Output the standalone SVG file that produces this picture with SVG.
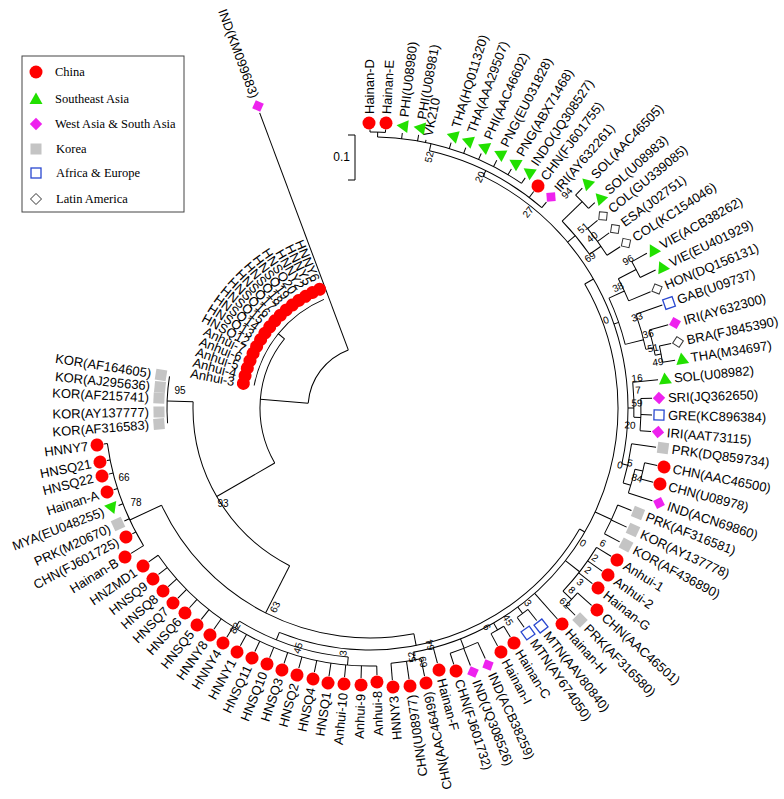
<svg xmlns="http://www.w3.org/2000/svg" width="784" height="799" viewBox="0 0 784 799">
<style>
.t{font-family:"Liberation Sans",Arial,sans-serif;font-size:13px;fill:#000;dominant-baseline:central}
.e{text-anchor:end}
.bs{font-family:"Liberation Sans",Arial,sans-serif;font-size:10px;fill:#000;dominant-baseline:central;text-anchor:middle}
.br{fill:none;stroke:#000;stroke-width:1}
#connectors line,#connectors circle{fill:none;stroke:#000;stroke-width:1}
.lg{font-family:"Liberation Serif","Times New Roman",serif;font-size:12.5px;fill:#000;dominant-baseline:central}
</style>
<defs>
<circle id="c" r="6.5" fill="#ff0000"/>
<polygon id="g" points="0,-6.5 6.5,5 -6.5,5" fill="#22e000"/>
<polygon id="m" points="0,-6.2 6.2,0 0,6.2 -6.2,0" fill="#ee22ee"/>
<rect id="k" x="-5.5" y="-5.5" width="11" height="11" fill="#c4c4c4"/>
<rect id="b" x="-5" y="-5" width="10" height="10" fill="none" stroke="#2a48d0" stroke-width="1.3"/>
<polygon id="d" points="0,-5.5 5.5,0 0,5.5 -5.5,0" fill="none" stroke="#333" stroke-width="1"/>
</defs>
<rect width="784" height="799" fill="#fff"/>

<g id="legend">
<rect x="22" y="56" width="162" height="156" fill="#fff" stroke="#444" stroke-width="1"/>
<use href="#c" x="36" y="72"/><text class="lg" x="55" y="72">China</text>
<use href="#g" x="36" y="99"/><text class="lg" x="55" y="99">Southeast Asia</text>
<use href="#m" x="36" y="124"/><text class="lg" x="55" y="124">West Asia &amp; South Asia</text>
<use href="#k" x="36" y="149"/><text class="lg" x="56" y="149">Korea</text>
<use href="#b" x="36" y="173"/><text class="lg" x="56" y="173">Africa &amp; Europe</text>
<use href="#d" x="36" y="199"/><text class="lg" x="56" y="199">Latin America</text>
</g>

<g id="scale">
<path class="br" d="M348,135 H355 V180 H348"/>
<text class="t" x="350" y="157" text-anchor="end" style="font-size:12px">0.1</text>
</g>

<g id="connectors" transform="translate(370,408)">
<line x1="62" x2="315" transform="rotate(-110.5)"/>
<circle r="62" pathLength="360" stroke-dasharray="65 400" transform="rotate(184.5)"/>
<line x1="62" x2="110" transform="rotate(184.5)"/>
<circle r="110" pathLength="360" stroke-dasharray="69 400" transform="rotate(150)"/>
<line x1="110" x2="118" transform="rotate(219)"/>
<circle r="118" pathLength="360" stroke-dasharray="56 400" transform="rotate(191)"/>
<line x1="110" x2="177" transform="rotate(150)"/>
<circle r="177" pathLength="360" stroke-dasharray="65 400" transform="rotate(117)"/>
<line x1="177" x2="203" transform="rotate(182)"/>
<circle r="203" pathLength="360" stroke-dasharray="13.3 400" transform="rotate(175.7)"/>
<line x1="177" x2="230" transform="rotate(117)"/>
<circle r="230" pathLength="360" stroke-dasharray="76 400" transform="rotate(79)"/>
<line x1="230" x2="265" transform="rotate(155)"/>
<circle r="265" pathLength="360" stroke-dasharray="23.6 400" transform="rotate(148.7)"/>
<line x1="265" x2="268.5" transform="rotate(172.3)"/>
<line x1="265" x2="268.3" transform="rotate(168.7)"/>
<line x1="265" x2="269.5" transform="rotate(165.8)"/>
<line x1="265" x2="269.1" transform="rotate(162.3)"/>
<line x1="265" x2="269.7" transform="rotate(158.8)"/>
<line x1="265" x2="270.4" transform="rotate(155.3)"/>
<line x1="265" x2="269" transform="rotate(152.1)"/>
<line x1="265" x2="279.7" transform="rotate(148.7)"/>
<line x1="230" x2="242" transform="rotate(79)"/>
<circle r="242" pathLength="360" stroke-dasharray="82 400" transform="rotate(30)"/>
<line x1="242" x2="250" transform="rotate(112)"/>
<circle r="250" pathLength="360" stroke-dasharray="26.5 400" transform="rotate(95)"/>
<line x1="250" x2="258" transform="rotate(121.5)"/>
<line x1="250" x2="258" transform="rotate(95)"/>
<circle r="258" pathLength="360" stroke-dasharray="56.7 400" transform="rotate(88.5)"/>
<line x1="258" x2="267.1" transform="rotate(88.5)"/>
<line x1="258" x2="270.1" transform="rotate(91.9)"/>
<line x1="258" x2="270.2" transform="rotate(95.4)"/>
<line x1="258" x2="271.2" transform="rotate(98.7)"/>
<line x1="258" x2="269.9" transform="rotate(101.9)"/>
<line x1="258" x2="269.8" transform="rotate(105.3)"/>
<line x1="258" x2="269.4" transform="rotate(108.6)"/>
<line x1="258" x2="269" transform="rotate(111.9)"/>
<line x1="258" x2="269.4" transform="rotate(115.3)"/>
<line x1="258" x2="270.9" transform="rotate(118.6)"/>
<line x1="258" x2="270.2" transform="rotate(122)"/>
<line x1="258" x2="270.8" transform="rotate(125.2)"/>
<line x1="258" x2="270.5" transform="rotate(128.6)"/>
<line x1="258" x2="269.2" transform="rotate(132.1)"/>
<line x1="258" x2="270.2" transform="rotate(135.3)"/>
<line x1="258" x2="269.4" transform="rotate(138.5)"/>
<line x1="258" x2="269.1" transform="rotate(141.8)"/>
<line x1="258" x2="269.5" transform="rotate(145.2)"/>
<line x1="242" x2="248" transform="rotate(30)"/>
<circle r="248" pathLength="360" stroke-dasharray="110 400" transform="rotate(-30)"/>
<line x1="248" x2="256" transform="rotate(80)"/>
<circle r="256" pathLength="360" stroke-dasharray="6.8 400" transform="rotate(78.5)"/>
<line x1="256" x2="273.6" transform="rotate(78.5)"/>
<line x1="256" x2="273.9" transform="rotate(81.8)"/>
<line x1="256" x2="272.9" transform="rotate(85.3)"/>
<line x1="248" x2="263.9" transform="rotate(75.2)"/>
<line x1="248" x2="258" transform="rotate(68.6)"/>
<circle r="258" pathLength="360" stroke-dasharray="6.6 400" transform="rotate(65.3)"/>
<line x1="258" x2="275.8" transform="rotate(65.3)"/>
<line x1="258" x2="276.4" transform="rotate(68.7)"/>
<line x1="258" x2="269.7" transform="rotate(71.9)"/>
<line x1="248" x2="256" transform="rotate(60.1)"/>
<circle r="256" pathLength="360" stroke-dasharray="3.3 400" transform="rotate(58.5)"/>
<line x1="256" x2="268.6" transform="rotate(58.5)"/>
<line x1="256" x2="269.9" transform="rotate(61.8)"/>
<line x1="248" x2="256" transform="rotate(53.4)"/>
<circle r="256" pathLength="360" stroke-dasharray="3 400" transform="rotate(51.9)"/>
<line x1="256" x2="270.1" transform="rotate(51.9)"/>
<line x1="256" x2="268" transform="rotate(54.9)"/>
<line x1="248" x2="282.2" transform="rotate(48.4)"/>
<line x1="248" x2="266" transform="rotate(38)"/>
<circle r="266" pathLength="360" stroke-dasharray="11.9 400" transform="rotate(31.6)"/>
<line x1="266" x2="283" transform="rotate(31.6)"/>
<line x1="266" x2="283.8" transform="rotate(35.1)"/>
<line x1="266" x2="283.4" transform="rotate(38.3)"/>
<line x1="266" x2="278" transform="rotate(43.5)"/>
<circle r="278" pathLength="360" stroke-dasharray="3.6 400" transform="rotate(41.7)"/>
<line x1="278" x2="296.7" transform="rotate(41.7)"/>
<line x1="278" x2="291.6" transform="rotate(45.3)"/>
<line x1="248" x2="266" transform="rotate(24.8)"/>
<circle r="266" pathLength="360" stroke-dasharray="6.8 400" transform="rotate(21.4)"/>
<line x1="266" x2="280.8" transform="rotate(21.4)"/>
<line x1="266" x2="282.9" transform="rotate(24.9)"/>
<line x1="266" x2="283.3" transform="rotate(28.2)"/>
<line x1="248" x2="258" transform="rotate(-30)"/>
<circle r="258" pathLength="360" stroke-dasharray="76.5 400" transform="rotate(-64)"/>
<line x1="258" x2="264" transform="rotate(12.5)"/>
<circle r="264" pathLength="360" stroke-dasharray="8.7 400" transform="rotate(7.8)"/>
<line x1="264" x2="288.7" transform="rotate(7.8)"/>
<line x1="264" x2="272" transform="rotate(16.5)"/>
<circle r="272" pathLength="360" stroke-dasharray="5.2 400" transform="rotate(13)"/>
<line x1="272" x2="297.2" transform="rotate(18.2)"/>
<line x1="272" x2="280" transform="rotate(13)"/>
<circle r="280" pathLength="360" stroke-dasharray="3.4 400" transform="rotate(11.3)"/>
<line x1="280" x2="292.9" transform="rotate(11.3)"/>
<line x1="280" x2="292.8" transform="rotate(14.7)"/>
<line x1="258" x2="264" transform="rotate(0)"/>
<circle r="264" pathLength="360" stroke-dasharray="7.6 400" transform="rotate(-5.6)"/>
<line x1="264" x2="289.4" transform="rotate(-5.6)"/>
<line x1="264" x2="271" transform="rotate(2)"/>
<circle r="271" pathLength="360" stroke-dasharray="6.8 400" transform="rotate(-2)"/>
<line x1="271" x2="282.2" transform="rotate(-2)"/>
<line x1="271" x2="282.1" transform="rotate(1.4)"/>
<line x1="271" x2="282" transform="rotate(4.8)"/>
<line x1="258" x2="263" transform="rotate(-19)"/>
<circle r="263" pathLength="360" stroke-dasharray="10.7 400" transform="rotate(-24.7)"/>
<line x1="263" x2="280" transform="rotate(-24.7)"/>
<circle r="280" pathLength="360" stroke-dasharray="5 400" transform="rotate(-27.5)"/>
<line x1="280" x2="303.7" transform="rotate(-22.5)"/>
<line x1="280" x2="300" transform="rotate(-27.5)"/>
<circle r="300" pathLength="360" stroke-dasharray="3.4 400" transform="rotate(-29.2)"/>
<line x1="300" x2="317.2" transform="rotate(-29.2)"/>
<line x1="300" x2="317.2" transform="rotate(-25.8)"/>
<line x1="263" x2="282" transform="rotate(-14)"/>
<circle r="282" pathLength="360" stroke-dasharray="7.4 400" transform="rotate(-19.4)"/>
<line x1="282" x2="309.9" transform="rotate(-19.4)"/>
<line x1="282" x2="290" transform="rotate(-12)"/>
<circle r="290" pathLength="360" stroke-dasharray="5.1 400" transform="rotate(-15.6)"/>
<line x1="290" x2="309.6" transform="rotate(-15.6)"/>
<line x1="290" x2="296" transform="rotate(-10.5)"/>
<circle r="296" pathLength="360" stroke-dasharray="3.2 400" transform="rotate(-12.1)"/>
<line x1="296" x2="308" transform="rotate(-12.1)"/>
<line x1="296" x2="308.8" transform="rotate(-8.9)"/>
<line x1="258" x2="268" transform="rotate(-40)"/>
<circle r="268" pathLength="360" stroke-dasharray="9.2 400" transform="rotate(-44.2)"/>
<line x1="268" x2="296" transform="rotate(-44.2)"/>
<circle r="296" pathLength="360" stroke-dasharray="3.6 400" transform="rotate(-46)"/>
<line x1="296" x2="305.6" transform="rotate(-46)"/>
<line x1="296" x2="304.4" transform="rotate(-42.4)"/>
<line x1="268" x2="282" transform="rotate(-35)"/>
<circle r="282" pathLength="360" stroke-dasharray="6.7 400" transform="rotate(-39.5)"/>
<line x1="282" x2="294.9" transform="rotate(-39.5)"/>
<line x1="282" x2="296.4" transform="rotate(-36.2)"/>
<line x1="282" x2="297.6" transform="rotate(-32.8)"/>
<line x1="258" x2="264" transform="rotate(-64)"/>
<circle r="264" pathLength="360" stroke-dasharray="27.6 400" transform="rotate(-77)"/>
<line x1="264" x2="271.4" transform="rotate(-52.9)"/>
<line x1="264" x2="271.1" transform="rotate(-49.4)"/>
<line x1="264" x2="271" transform="rotate(-77)"/>
<circle r="271" pathLength="360" stroke-dasharray="32.4 400" transform="rotate(-88.4)"/>
<line x1="271" x2="276.9" transform="rotate(-83.3)"/>
<line x1="271" x2="277.4" transform="rotate(-79.9)"/>
<line x1="271" x2="274" transform="rotate(-78.2)"/>
<line x1="271" x2="277.4" transform="rotate(-73)"/>
<line x1="271" x2="277.4" transform="rotate(-69.8)"/>
<line x1="271" x2="277.8" transform="rotate(-66.4)"/>
<line x1="271" x2="278.3" transform="rotate(-62.9)"/>
<line x1="271" x2="277.7" transform="rotate(-59.4)"/>
<line x1="271" x2="277.6" transform="rotate(-56)"/>
<line x1="271" x2="276" transform="rotate(-88.4)"/>
<circle r="276" pathLength="360" stroke-dasharray="3.2 400" transform="rotate(-90)"/>
<line x1="276" x2="278.5" transform="rotate(-90)"/>
<line x1="276" x2="278.9" transform="rotate(-86.8)"/>
</g>

<g id="bootstrap">
<text class="bs" transform="translate(429,157) rotate(-76.8)">52</text>
<text class="bs" transform="translate(480,177) rotate(-64.5)">20</text>
<text class="bs" transform="translate(528,212) rotate(-51)">27</text>
<text class="bs" transform="translate(567,193) rotate(-47.5)">94</text>
<text class="bs" transform="translate(583,228) rotate(-40)">51</text>
<text class="bs" transform="translate(592,237) rotate(-37.6)">40</text>
<text class="bs" transform="translate(590,257) rotate(-34.5)">69</text>
<text class="bs" transform="translate(628,260) rotate(-29.8)">96</text>
<text class="bs" transform="translate(618,287) rotate(-26)">38</text>
<text class="bs" transform="translate(606,320) rotate(-20)">0</text>
<text class="bs" transform="translate(637,317) rotate(-18.8)">33</text>
<text class="bs" transform="translate(648,334) rotate(-15)">36</text>
<text class="bs" transform="translate(653,348) rotate(-12)">51</text>
<text class="bs" transform="translate(658,362) rotate(-9)">49</text>
<text class="bs" transform="translate(637,378) rotate(-6.4)">16</text>
<text class="bs" transform="translate(638,390) rotate(-3.8)">7</text>
<text class="bs" transform="translate(637,403) rotate(-1)">59</text>
<text class="bs" transform="translate(630,425) rotate(3.7)">20</text>
<text class="bs" transform="translate(620,465) rotate(12.8)">0</text>
<text class="bs" transform="translate(630,463) rotate(12)">5</text>
<text class="bs" transform="translate(637,478) rotate(14.7)">84</text>
<text class="bs" transform="translate(603,543) rotate(30)">6</text>
<text class="bs" transform="translate(583,543) rotate(32.4)">0</text>
<text class="bs" transform="translate(595,558) rotate(33.7)">2</text>
<text class="bs" transform="translate(588,570) rotate(36.6)">2</text>
<text class="bs" transform="translate(580,582) rotate(39.6)">3</text>
<text class="bs" transform="translate(572,590) rotate(42)">8</text>
<text class="bs" transform="translate(565,603) rotate(45)">62</text>
<text class="bs" transform="translate(528,603) rotate(51)">3</text>
<text class="bs" transform="translate(508,620) rotate(57)">45</text>
<text class="bs" transform="translate(487,627) rotate(61.9)">6</text>
<text class="bs" transform="translate(430,645) rotate(-104)">64</text>
<text class="bs" transform="translate(412,657) rotate(-100)">52</text>
<text class="bs" transform="translate(423,662) rotate(-102)">69</text>
<text class="bs" transform="translate(275,607) rotate(-64.5)">63</text>
<text class="bs" transform="translate(235,628) rotate(-58.5)">82</text>
<text class="bs" transform="translate(298,648) rotate(-73.3)">45</text>
<text class="bs" transform="translate(343,653) rotate(-83.7)">3</text>
<text class="bs" transform="translate(223,503)">93</text>
<text class="bs" transform="translate(180,390)">95</text>
<text class="bs" transform="translate(124,477)">66</text>
<text class="bs" transform="translate(136,502)">78</text>
</g>

<g id="n-IND-KM099683" transform="translate(258,106) rotate(-110.4)"><use href="#m"/><text class="t e" transform="rotate(180)" x="-9">IND(KM099683)</text></g>
<g id="n-Hainan-D" transform="translate(369,123) rotate(-90)"><use href="#c"/><text class="t" x="9">Hainan-D</text></g>
<g id="n-Hainan-E" transform="translate(386,123) rotate(-86.8)"><use href="#c"/><text class="t" x="9">Hainan-E</text></g>
<g id="n-PHI-U08980" transform="translate(403,126) rotate(-83.3)"><use href="#g"/><text class="t" x="9">PHI(U08980)</text></g>
<g id="n-PHI-U08981" transform="translate(420,128) rotate(-79.9)"><use href="#g"/><text class="t" x="9">PHI(U08981)</text></g>
<g id="n-VK210" transform="translate(427,140) rotate(-78.2)"><text class="t" x="4">VK210</text></g>
<g id="n-THA-HQ011320" transform="translate(453,136) rotate(-73)"><use href="#g"/><text class="t" x="9">THA(HQ011320)</text></g>
<g id="n-THA-AAA29507" transform="translate(468,141) rotate(-69.8)"><use href="#g"/><text class="t" x="9">THA(AAA29507)</text></g>
<g id="n-PHI-AAC46602" transform="translate(484,147) rotate(-66.4)"><use href="#g"/><text class="t" x="9">PHI(AAC46602)</text></g>
<g id="n-PNG-EU031828" transform="translate(500,154) rotate(-62.9)"><use href="#g"/><text class="t" x="9">PNG(EU031828)</text></g>
<g id="n-PNG-ABX71468" transform="translate(515,163) rotate(-59.4)"><use href="#g"/><text class="t" x="9">PNG(ABX71468)</text></g>
<g id="n-INDO-JQ308527" transform="translate(529,172) rotate(-56)"><use href="#g"/><text class="t" x="9">INDO(JQ308527)</text></g>
<g id="n-CHN-FJ601755" transform="translate(538,186) rotate(-52.9)"><use href="#c"/><text class="t" x="9">CHN(FJ601755)</text></g>
<g id="n-IRI-AY632261" transform="translate(551,197) rotate(-49.4)"><use href="#m"/><text class="t" x="9">IRI(AY632261)</text></g>
<g id="n-SOL-AAC46505" transform="translate(587,183) rotate(-46)"><use href="#g"/><text class="t" x="9">SOL(AAC46505)</text></g>
<g id="n-SOL-U08983" transform="translate(600,198) rotate(-42.4)"><use href="#g"/><text class="t" x="9">SOL(U08983)</text></g>
<g id="n-COL-GU339085" transform="translate(603,216) rotate(-39.5)"><use href="#d"/><text class="t" x="9">COL(GU339085)</text></g>
<g id="n-ESA-J02751" transform="translate(615,229) rotate(-36.2)"><use href="#d"/><text class="t" x="9">ESA(J02751)</text></g>
<g id="n-COL-KC154046" transform="translate(626,243) rotate(-32.8)"><use href="#d"/><text class="t" x="9">COL(KC154046)</text></g>
<g id="n-VIE-ACB38262" transform="translate(653,250) rotate(-29.2)"><use href="#g"/><text class="t" x="9">VIE(ACB38262)</text></g>
<g id="n-VIE-EU401929" transform="translate(662,267) rotate(-25.8)"><use href="#g"/><text class="t" x="9">VIE(EU401929)</text></g>
<g id="n-HON-DQ156131" transform="translate(657,289) rotate(-22.5)"><use href="#d"/><text class="t" x="9">HON(DQ156131)</text></g>
<g id="n-GAB-U09737" transform="translate(669,303) rotate(-19.4)"><use href="#b"/><text class="t" x="9">GAB(U09737)</text></g>
<g id="n-IRI-AY632300" transform="translate(675,323) rotate(-15.6)"><use href="#m"/><text class="t" x="9">IRI(AY632300)</text></g>
<g id="n-BRA-FJ845390" transform="translate(678,342) rotate(-12.1)"><use href="#d"/><text class="t" x="9">BRA(FJ845390)</text></g>
<g id="n-THA-M34697" transform="translate(682,359) rotate(-8.9)"><use href="#g"/><text class="t" x="9">THA(M34697)</text></g>
<g id="n-SOL-U08982" transform="translate(665,379) rotate(-5.6)"><use href="#g"/><text class="t" x="9">SOL(U08982)</text></g>
<g id="n-SRI-JQ362650" transform="translate(659,398) rotate(-2)"><use href="#m"/><text class="t" x="9">SRI(JQ362650)</text></g>
<g id="n-GRE-KC896384" transform="translate(659,415) rotate(1.4)"><use href="#b"/><text class="t" x="9">GRE(KC896384)</text></g>
<g id="n-IRI-AAT73115" transform="translate(658,432) rotate(4.8)"><use href="#m"/><text class="t" x="9">IRI(AAT73115)</text></g>
<g id="n-PRK-DQ859734" transform="translate(663,448) rotate(7.8)"><use href="#k"/><text class="t" x="9">PRK(DQ859734)</text></g>
<g id="n-CHN-AAC46500" transform="translate(664,467) rotate(11.3)"><use href="#c"/><text class="t" x="9">CHN(AAC46500)</text></g>
<g id="n-CHN-U08978" transform="translate(660,484) rotate(14.7)"><use href="#c"/><text class="t" x="9">CHN(U08978)</text></g>
<g id="n-IND-ACN69860" transform="translate(659,503) rotate(18.2)"><use href="#m"/><text class="t" x="9">IND(ACN69860)</text></g>
<g id="n-PRK-AF316581" transform="translate(638,513) rotate(21.4)"><use href="#k"/><text class="t" x="9">PRK(AF316581)</text></g>
<g id="n-KOR-AY137778" transform="translate(633,530) rotate(24.9)"><use href="#k"/><text class="t" x="9">KOR(AY137778)</text></g>
<g id="n-KOR-AF436890" transform="translate(626,545) rotate(28.2)"><use href="#k"/><text class="t" x="9">KOR(AF436890)</text></g>
<g id="n-Anhui-1" transform="translate(617,560) rotate(31.6)"><use href="#c"/><text class="t" x="9">Anhui-1</text></g>
<g id="n-Anhui-2" transform="translate(608,575) rotate(35.1)"><use href="#c"/><text class="t" x="9">Anhui-2</text></g>
<g id="n-Hainan-G" transform="translate(598,588) rotate(38.3)"><use href="#c"/><text class="t" x="9">Hainan-G</text></g>
<g id="n-CHN-AAC46501" transform="translate(597,610) rotate(41.7)"><use href="#c"/><text class="t" x="9">CHN(AAC46501)</text></g>
<g id="n-PRK-AF316580" transform="translate(580,620) rotate(45.3)"><use href="#k"/><text class="t" x="9">PRK(AF316580)</text></g>
<g id="n-Hainan-H" transform="translate(562,624) rotate(48.4)"><use href="#c"/><text class="t" x="9">Hainan-H</text></g>
<g id="n-MTN-AAV80840" transform="translate(541,626) rotate(51.9)"><use href="#b"/><text class="t" x="9">MTN(AAV80840)</text></g>
<g id="n-MTN-AY674050" transform="translate(528,633) rotate(54.9)"><use href="#b"/><text class="t" x="9">MTN(AY674050)</text></g>
<g id="n-Hainan-C" transform="translate(514,643) rotate(58.5)"><use href="#c"/><text class="t" x="9">Hainan-C</text></g>
<g id="n-Hainan-I" transform="translate(501,652) rotate(61.8)"><use href="#c"/><text class="t" x="9">Hainan-I</text></g>
<g id="n-IND-ACB38259" transform="translate(488,665) rotate(65.3)"><use href="#m"/><text class="t" x="9">IND(ACB38259)</text></g>
<g id="n-IND-JQ308526" transform="translate(473,672) rotate(68.7)"><use href="#m"/><text class="t" x="9">IND(JQ308526)</text></g>
<g id="n-CHN-FJ601732" transform="translate(456,671) rotate(71.9)"><use href="#c"/><text class="t" x="9">CHN(FJ601732)</text></g>
<g id="n-Hainan-F" transform="translate(439,670) rotate(75.2)"><use href="#c"/><text class="t" x="9">Hainan-F</text></g>
<g id="n-CHN-AAC46499" transform="translate(426,683) rotate(78.5)"><use href="#c"/><text class="t e" transform="rotate(180)" x="-9">CHN(AAC46499)</text></g>
<g id="n-CHN-U08977" transform="translate(410,686) rotate(81.8)"><use href="#c"/><text class="t e" transform="rotate(180)" x="-9">CHN(U08977)</text></g>
<g id="n-HNNY3" transform="translate(393,687) rotate(85.3)"><use href="#c"/><text class="t e" transform="rotate(180)" x="-9">HNNY3</text></g>
<g id="n-Anhui-8" transform="translate(377,682) rotate(88.5)"><use href="#c"/><text class="t e" transform="rotate(180)" x="-9">Anhui-8</text></g>
<g id="n-Anhui-9" transform="translate(361,685) rotate(91.9)"><use href="#c"/><text class="t e" transform="rotate(180)" x="-9">Anhui-9</text></g>
<g id="n-Anhui-10" transform="translate(344,684) rotate(95.4)"><use href="#c"/><text class="t e" transform="rotate(180)" x="-9">Anhui-10</text></g>
<g id="n-HNSQ1" transform="translate(328,683) rotate(98.7)"><use href="#c"/><text class="t e" transform="rotate(180)" x="-9">HNSQ1</text></g>
<g id="n-HNSQ4" transform="translate(313,679) rotate(101.9)"><use href="#c"/><text class="t e" transform="rotate(180)" x="-9">HNSQ4</text></g>
<g id="n-HNSQ2" transform="translate(297,675) rotate(105.3)"><use href="#c"/><text class="t e" transform="rotate(180)" x="-9">HNSQ2</text></g>
<g id="n-HNSQ3" transform="translate(282,670) rotate(108.6)"><use href="#c"/><text class="t e" transform="rotate(180)" x="-9">HNSQ3</text></g>
<g id="n-HNSQ10" transform="translate(267,664) rotate(111.9)"><use href="#c"/><text class="t e" transform="rotate(180)" x="-9">HNSQ10</text></g>
<g id="n-HNSQ11" transform="translate(252,658) rotate(115.3)"><use href="#c"/><text class="t e" transform="rotate(180)" x="-9">HNSQ11</text></g>
<g id="n-HNNY1" transform="translate(237,652) rotate(118.6)"><use href="#c"/><text class="t e" transform="rotate(180)" x="-9">HNNY1</text></g>
<g id="n-HNNY4" transform="translate(223,643) rotate(122)"><use href="#c"/><text class="t e" transform="rotate(180)" x="-9">HNNY4</text></g>
<g id="n-HNNY8" transform="translate(210,635) rotate(125.2)"><use href="#c"/><text class="t e" transform="rotate(180)" x="-9">HNNY8</text></g>
<g id="n-HNSQ5" transform="translate(197,625) rotate(128.6)"><use href="#c"/><text class="t e" transform="rotate(180)" x="-9">HNSQ5</text></g>
<g id="n-HNSQ6" transform="translate(185,613) rotate(132.1)"><use href="#c"/><text class="t e" transform="rotate(180)" x="-9">HNSQ6</text></g>
<g id="n-HNSQ7" transform="translate(173,603) rotate(135.3)"><use href="#c"/><text class="t e" transform="rotate(180)" x="-9">HNSQ7</text></g>
<g id="n-HNSQ8" transform="translate(163,591) rotate(138.5)"><use href="#c"/><text class="t e" transform="rotate(180)" x="-9">HNSQ8</text></g>
<g id="n-HNSQ9" transform="translate(153,579) rotate(141.8)"><use href="#c"/><text class="t e" transform="rotate(180)" x="-9">HNSQ9</text></g>
<g id="n-HNZMD1" transform="translate(143,566) rotate(145.2)"><use href="#c"/><text class="t e" transform="rotate(180)" x="-9">HNZMD1</text></g>
<g id="n-Hainan-B" transform="translate(125,557) rotate(148.7)"><use href="#c"/><text class="t e" transform="rotate(180)" x="-9">Hainan-B</text></g>
<g id="n-CHN-FJ601725" transform="translate(126,537) rotate(152.1)"><use href="#c"/><text class="t e" transform="rotate(180)" x="-9">CHN(FJ601725)</text></g>
<g id="n-PRK-M20670" transform="translate(118,524) rotate(155.3)"><use href="#k"/><text class="t e" transform="rotate(180)" x="-9">PRK(M20670)</text></g>
<g id="n-MYA-EU048255" transform="translate(112,508) rotate(158.8)"><use href="#g"/><text class="t e" transform="rotate(180)" x="-9">MYA(EU048255)</text></g>
<g id="n-Hainan-A" transform="translate(107,492) rotate(162.3)"><use href="#c"/><text class="t e" transform="rotate(180)" x="-9">Hainan-A</text></g>
<g id="n-HNSQ22" transform="translate(102,476) rotate(165.8)"><use href="#c"/><text class="t e" transform="rotate(180)" x="-9">HNSQ22</text></g>
<g id="n-HNSQ21" transform="translate(100,462) rotate(168.7)"><use href="#c"/><text class="t e" transform="rotate(180)" x="-9">HNSQ21</text></g>
<g id="n-HNNY7" transform="translate(97,445) rotate(172.3)"><use href="#c"/><text class="t e" transform="rotate(180)" x="-9">HNNY7</text></g>
<g id="n-KOR-AF316583" transform="translate(159,424) rotate(175.7)"><use href="#k"/><text class="t e" transform="rotate(180)" x="-10">KOR(AF316583)</text></g>
<g id="n-KOR-AY137777" transform="translate(159,412) rotate(178.9)"><use href="#k"/><text class="t e" transform="rotate(180)" x="-10">KOR(AY137777)</text></g>
<g id="n-KOR-AF215741" transform="translate(159,398) rotate(182.7)"><use href="#k"/><text class="t e" transform="rotate(180)" x="-10">KOR(AF215741)</text></g>
<g id="n-KOR-AJ295636" transform="translate(160,387) rotate(185.7)"><use href="#k"/><text class="t e" transform="rotate(180)" x="-10">KOR(AJ295636)</text></g>
<g id="n-KOR-AF164605" transform="translate(161,375) rotate(189)"><use href="#k"/><text class="t e" transform="rotate(180)" x="-10">KOR(AF164605)</text></g>

<g id="n-inner-cluster" transform="translate(370,408)">
<g transform="rotate(191)"><use href="#c" x="129"/><text class="t e" transform="rotate(180)" x="-138">Anhui-3</text></g>
<g transform="rotate(194.5)"><use href="#c" x="129"/><text class="t e" transform="rotate(180)" x="-138">Anhui-4</text></g>
<g transform="rotate(198)"><use href="#c" x="129"/><text class="t e" transform="rotate(180)" x="-138">Anhui-5</text></g>
<g transform="rotate(201.5)"><use href="#c" x="129"/><text class="t e" transform="rotate(180)" x="-138">Anhui-6</text></g>
<g transform="rotate(205)"><use href="#c" x="129"/><text class="t e" transform="rotate(180)" x="-138">Anhui-7</text></g>
<g transform="rotate(208.5)"><use href="#c" x="129"/><text class="t e" transform="rotate(180)" x="-138">HNSQ12</text></g>
<g transform="rotate(212)"><use href="#c" x="129"/><text class="t e" transform="rotate(180)" x="-138">HNSQ13</text></g>
<g transform="rotate(215.5)"><use href="#c" x="129"/><text class="t e" transform="rotate(180)" x="-138">HNSQ14</text></g>
<g transform="rotate(219)"><use href="#c" x="129"/><text class="t e" transform="rotate(180)" x="-138">HNSQ15</text></g>
<g transform="rotate(222.5)"><use href="#c" x="129"/><text class="t e" transform="rotate(180)" x="-138">HNSQ16</text></g>
<g transform="rotate(226)"><use href="#c" x="129"/><text class="t e" transform="rotate(180)" x="-138">HNSQ17</text></g>
<g transform="rotate(229.5)"><use href="#c" x="129"/><text class="t e" transform="rotate(180)" x="-138">HNSQ18</text></g>
<g transform="rotate(233)"><use href="#c" x="129"/><text class="t e" transform="rotate(180)" x="-138">HNSQ19</text></g>
<g transform="rotate(236.5)"><use href="#c" x="129"/><text class="t e" transform="rotate(180)" x="-138">HNSQ20</text></g>
<g transform="rotate(240)"><use href="#c" x="129"/><text class="t e" transform="rotate(180)" x="-138">HNNY2</text></g>
<g transform="rotate(243.5)"><use href="#c" x="129"/><text class="t e" transform="rotate(180)" x="-138">HNNY5</text></g>
<g transform="rotate(247)"><use href="#c" x="129"/><text class="t e" transform="rotate(180)" x="-138">HNNY6</text></g>
</g>
</svg>
